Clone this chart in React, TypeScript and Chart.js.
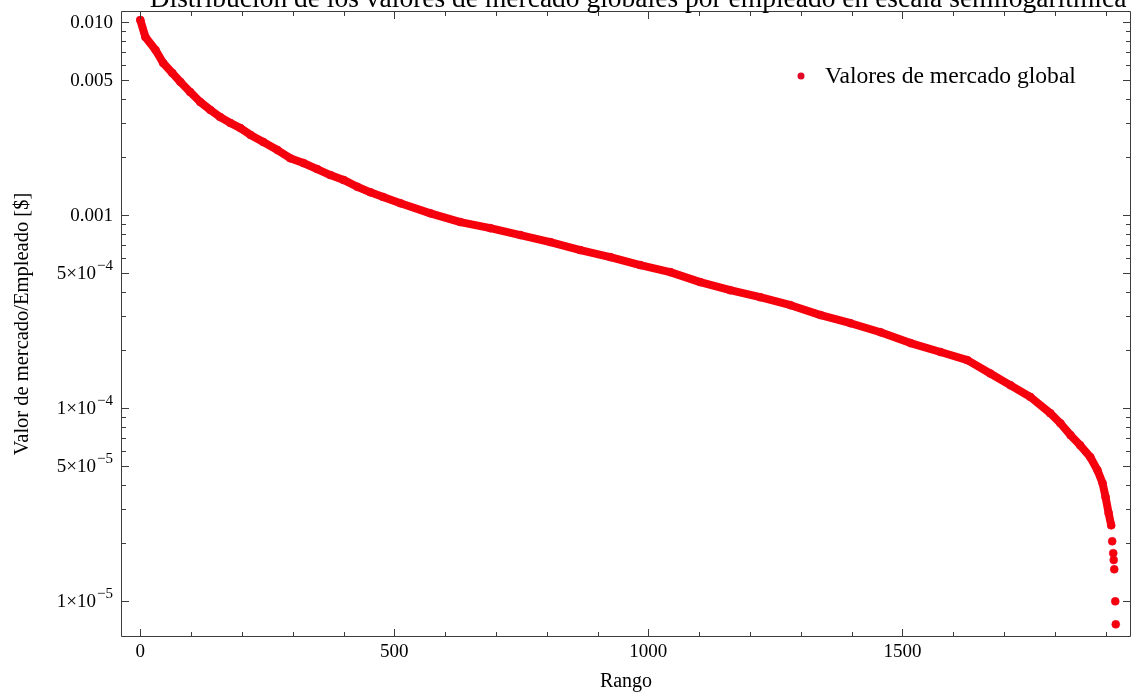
import { useEffect, useRef } from 'react';
import { Chart, registerables } from 'chart.js';

Chart.register(...registerables);

const chartTitle =
  'Distribución de los valores de mercado globales por empleado en escala semilogarítmica';
const seriesLabel = 'Valores de mercado global';
const xAxisTitle = 'Rango';
const yAxisTitle = 'Valor de mercado/Empleado [$]';

// Rank (x) and market value per employee (y)
const ranks = [
  0, 10, 30, 45, 63, 79, 98, 118, 138, 157, 177, 197, 217, 242, 270, 295, 321, 348, 374, 400,
  427, 453, 478, 512, 571, 630, 689, 748, 807, 866, 925, 984, 1043, 1102, 1161, 1220, 1280,
  1339, 1398, 1457, 1516, 1575, 1628, 1673, 1713, 1752, 1791, 1811, 1831, 1850, 1870, 1884,
  1894, 1900, 1906, 1911, 1913, 1915, 1916, 1917, 1919, 1920,
];
const marketValues = [
  0.01024, 0.00836, 0.00716, 0.00613, 0.00544, 0.00489, 0.00434, 0.00385, 0.0035, 0.00322,
  0.003, 0.00282, 0.0026, 0.00239, 0.00217, 0.00197, 0.00186, 0.00173, 0.00161, 0.00152,
  0.0014, 0.00131, 0.00124, 0.00115, 0.00102, 0.000919, 0.000855, 0.000787, 0.000724,
  0.000658, 0.000605, 0.00055, 0.000506, 0.000449, 0.000408, 0.000375, 0.000341, 0.000303,
  0.000275, 0.000247, 0.000217, 0.000195, 0.000177, 0.000151, 0.000131, 0.000114, 0.000094,
  0.0000834, 0.0000723, 0.0000641, 0.0000556, 0.0000476, 0.0000408, 0.0000345, 0.0000285,
  0.0000247, 0.0000204, 0.0000177, 0.0000163, 0.0000146, 0.00000996, 0.00000757,
];

const xTickValues = [0, 500, 1000, 1500];
const xTickLabels = ['0', '500', '1000', '1500'];
const xMinorTicks = [
  0, 100, 200, 300, 400, 500, 600, 700, 800, 900, 1000, 1100, 1200, 1300, 1400, 1500, 1600,
  1700, 1800, 1900,
];
const yTickValues = [0.01, 0.005, 0.001, 0.0005, 0.0001, 0.00005, 0.00001];
const yTickBases = ['0.010', '0.005', '0.001', '5×10', '1×10', '5×10', '1×10'];
const yTickExponents = ['', '', '', '−4', '−4', '−5', '−5'];
const yMinorMultipliers = [1, 2, 3, 4, 5, 6, 7, 8, 9];
const yMinorDecades = [1e-5, 1e-4, 1e-3];

const X_MIN = -38;
const X_MAX = 1950;
const Y_MIN = 6.51e-6;
const Y_MAX = 0.0114;
const TAIL_START_RANK = 1911;

const SERIF = '"Liberation Serif", "Times New Roman", serif';
const RED = 'rgb(246, 0, 12)';
const DOT = 'rgb(226, 8, 40)';
const FRAME = '#3c3c3c';

const framePlugin = {
  id: 'frameTicks',
  afterDraw(chart: any) {
    const { ctx, chartArea: a, scales } = chart;
    const x = scales.x;
    const y = scales.y;
    ctx.save();
    ctx.strokeStyle = FRAME;
    ctx.lineWidth = 1;
    ctx.beginPath();
    ctx.rect(a.left + 0.5, a.top + 0.5, a.right - a.left - 1, a.bottom - a.top - 1);
    ctx.stroke();

    ctx.beginPath();
    for (const v of xMinorTicks) {
      const px = Math.round(x.getPixelForValue(v)) + 0.5;
      const len = xTickValues.includes(v) ? 8 : 5;
      ctx.moveTo(px, a.bottom);
      ctx.lineTo(px, a.bottom - len);
      ctx.moveTo(px, a.top);
      ctx.lineTo(px, a.top + len);
    }
    const yMinor: number[] = [];
    for (const d of yMinorDecades) for (const m of yMinorMultipliers) yMinor.push(d * m);
    yMinor.push(0.01);
    for (const v of yMinor) {
      const py = Math.round(y.getPixelForValue(v)) + 0.5;
      const major = yTickValues.some((t) => Math.abs(t - v) / t < 1e-6);
      const len = major ? 8 : 5;
      ctx.moveTo(a.left, py);
      ctx.lineTo(a.left + len, py);
      ctx.moveTo(a.right, py);
      ctx.lineTo(a.right - len, py);
    }
    ctx.stroke();

    // Y tick labels with raised exponents
    ctx.fillStyle = '#000';
    ctx.textBaseline = 'middle';
    ctx.textAlign = 'right';
    const labelRight = a.left - 8;
    yTickValues.forEach((v, i) => {
      const py = y.getPixelForValue(v);
      const exp = yTickExponents[i];
      let right = labelRight;
      if (exp) {
        ctx.font = `15px ${SERIF}`;
        ctx.fillText(exp, right, py - 7);
        right -= ctx.measureText(exp).width + 1;
      }
      ctx.font = `19px ${SERIF}`;
      ctx.fillText(yTickBases[i], right, py + 1);
    });

    // Title (partly cut at the top edge, as in the reference)
    ctx.font = `27.5px ${SERIF}`;
    ctx.textAlign = 'center';
    ctx.textBaseline = 'alphabetic';
    ctx.fillText(chartTitle, (a.left + a.right) / 2 + 12, 7);

    // Legend inside the plot
    const lx = a.right - 330;
    const ly = a.top + 65;
    ctx.fillStyle = DOT;
    ctx.beginPath();
    ctx.arc(lx, ly, 3.5, 0, Math.PI * 2);
    ctx.fill();
    ctx.fillStyle = '#000';
    ctx.font = `23.6px ${SERIF}`;
    ctx.textAlign = 'left';
    ctx.fillText(chart.data.datasets[0].label, lx + 24, ly + 7);
    ctx.restore();
  },
};

export default function App() {
  const canvasRef = useRef<HTMLCanvasElement | null>(null);

  useEffect(() => {
    if (!canvasRef.current) return;
    const points = ranks.map((r, i) => ({ x: r, y: marketValues[i] }));
    const chart = new Chart(canvasRef.current, {
      type: 'line',
      data: {
        datasets: [
          {
            label: seriesLabel,
            data: points,
            showLine: true,
            borderColor: RED,
            borderWidth: 8,
            borderCapStyle: 'round',
            borderJoinStyle: 'round',
            pointRadius: 4,
            pointBackgroundColor: RED,
            pointBorderColor: DOT,
            pointBorderWidth: 0.5,
            tension: 0,
            segment: {
              borderColor: (ctx: any) =>
                ctx.p0.parsed.x >= TAIL_START_RANK ? 'rgba(0,0,0,0)' : RED,
            },
          },
        ],
      },
      options: {
        animation: false,
        responsive: true,
        maintainAspectRatio: false,
        layout: { padding: { left: 0, right: 5, top: 11, bottom: 0 } },
        plugins: {
          legend: { display: false },
          title: { display: false },
          tooltip: { enabled: false },
        },
        scales: {
          x: {
            type: 'linear',
            min: X_MIN,
            max: X_MAX,
            grid: { display: false, drawTicks: false },
            border: { display: false },
            afterFit: (scale: any) => {
              scale.height = 61;
              scale.paddingLeft = 0;
              scale.paddingRight = 0;
            },
            afterBuildTicks: (scale: any) => {
              scale.ticks = xTickValues.map((v) => ({ value: v }));
            },
            ticks: {
              autoSkip: false,
              maxRotation: 0,
              padding: 4,
              color: '#000',
              font: { family: SERIF, size: 19 },
              callback: (value: any) => {
                const i = xTickValues.indexOf(Number(value));
                return i >= 0 ? xTickLabels[i] : '';
              },
            },
            title: {
              display: true,
              text: xAxisTitle,
              color: '#000',
              font: { family: SERIF, size: 20 },
              padding: { top: 0, bottom: 4 },
            },
          },
          y: {
            type: 'logarithmic',
            min: Y_MIN,
            max: Y_MAX,
            grid: { display: false, drawTicks: false },
            border: { display: false },
            afterFit: (scale: any) => {
              scale.width = 121;
              scale.paddingTop = 0;
              scale.paddingBottom = 0;
            },
            afterBuildTicks: (scale: any) => {
              scale.ticks = yTickValues.map((v) => ({ value: v }));
            },
            ticks: {
              display: false,
              autoSkip: false,
            },
            title: {
              display: true,
              text: yAxisTitle,
              color: '#000',
              font: { family: SERIF, size: 20.5 },
              padding: { top: 10, bottom: 0 },
            },
          },
        },
      },
      plugins: [framePlugin],
    });
    return () => chart.destroy();
  }, []);

  return (
    <div style={{ position: 'fixed', left: 0, top: 0, width: 1136, height: 698, background: '#fff' }}>
      <canvas ref={canvasRef} />
    </div>
  );
}
